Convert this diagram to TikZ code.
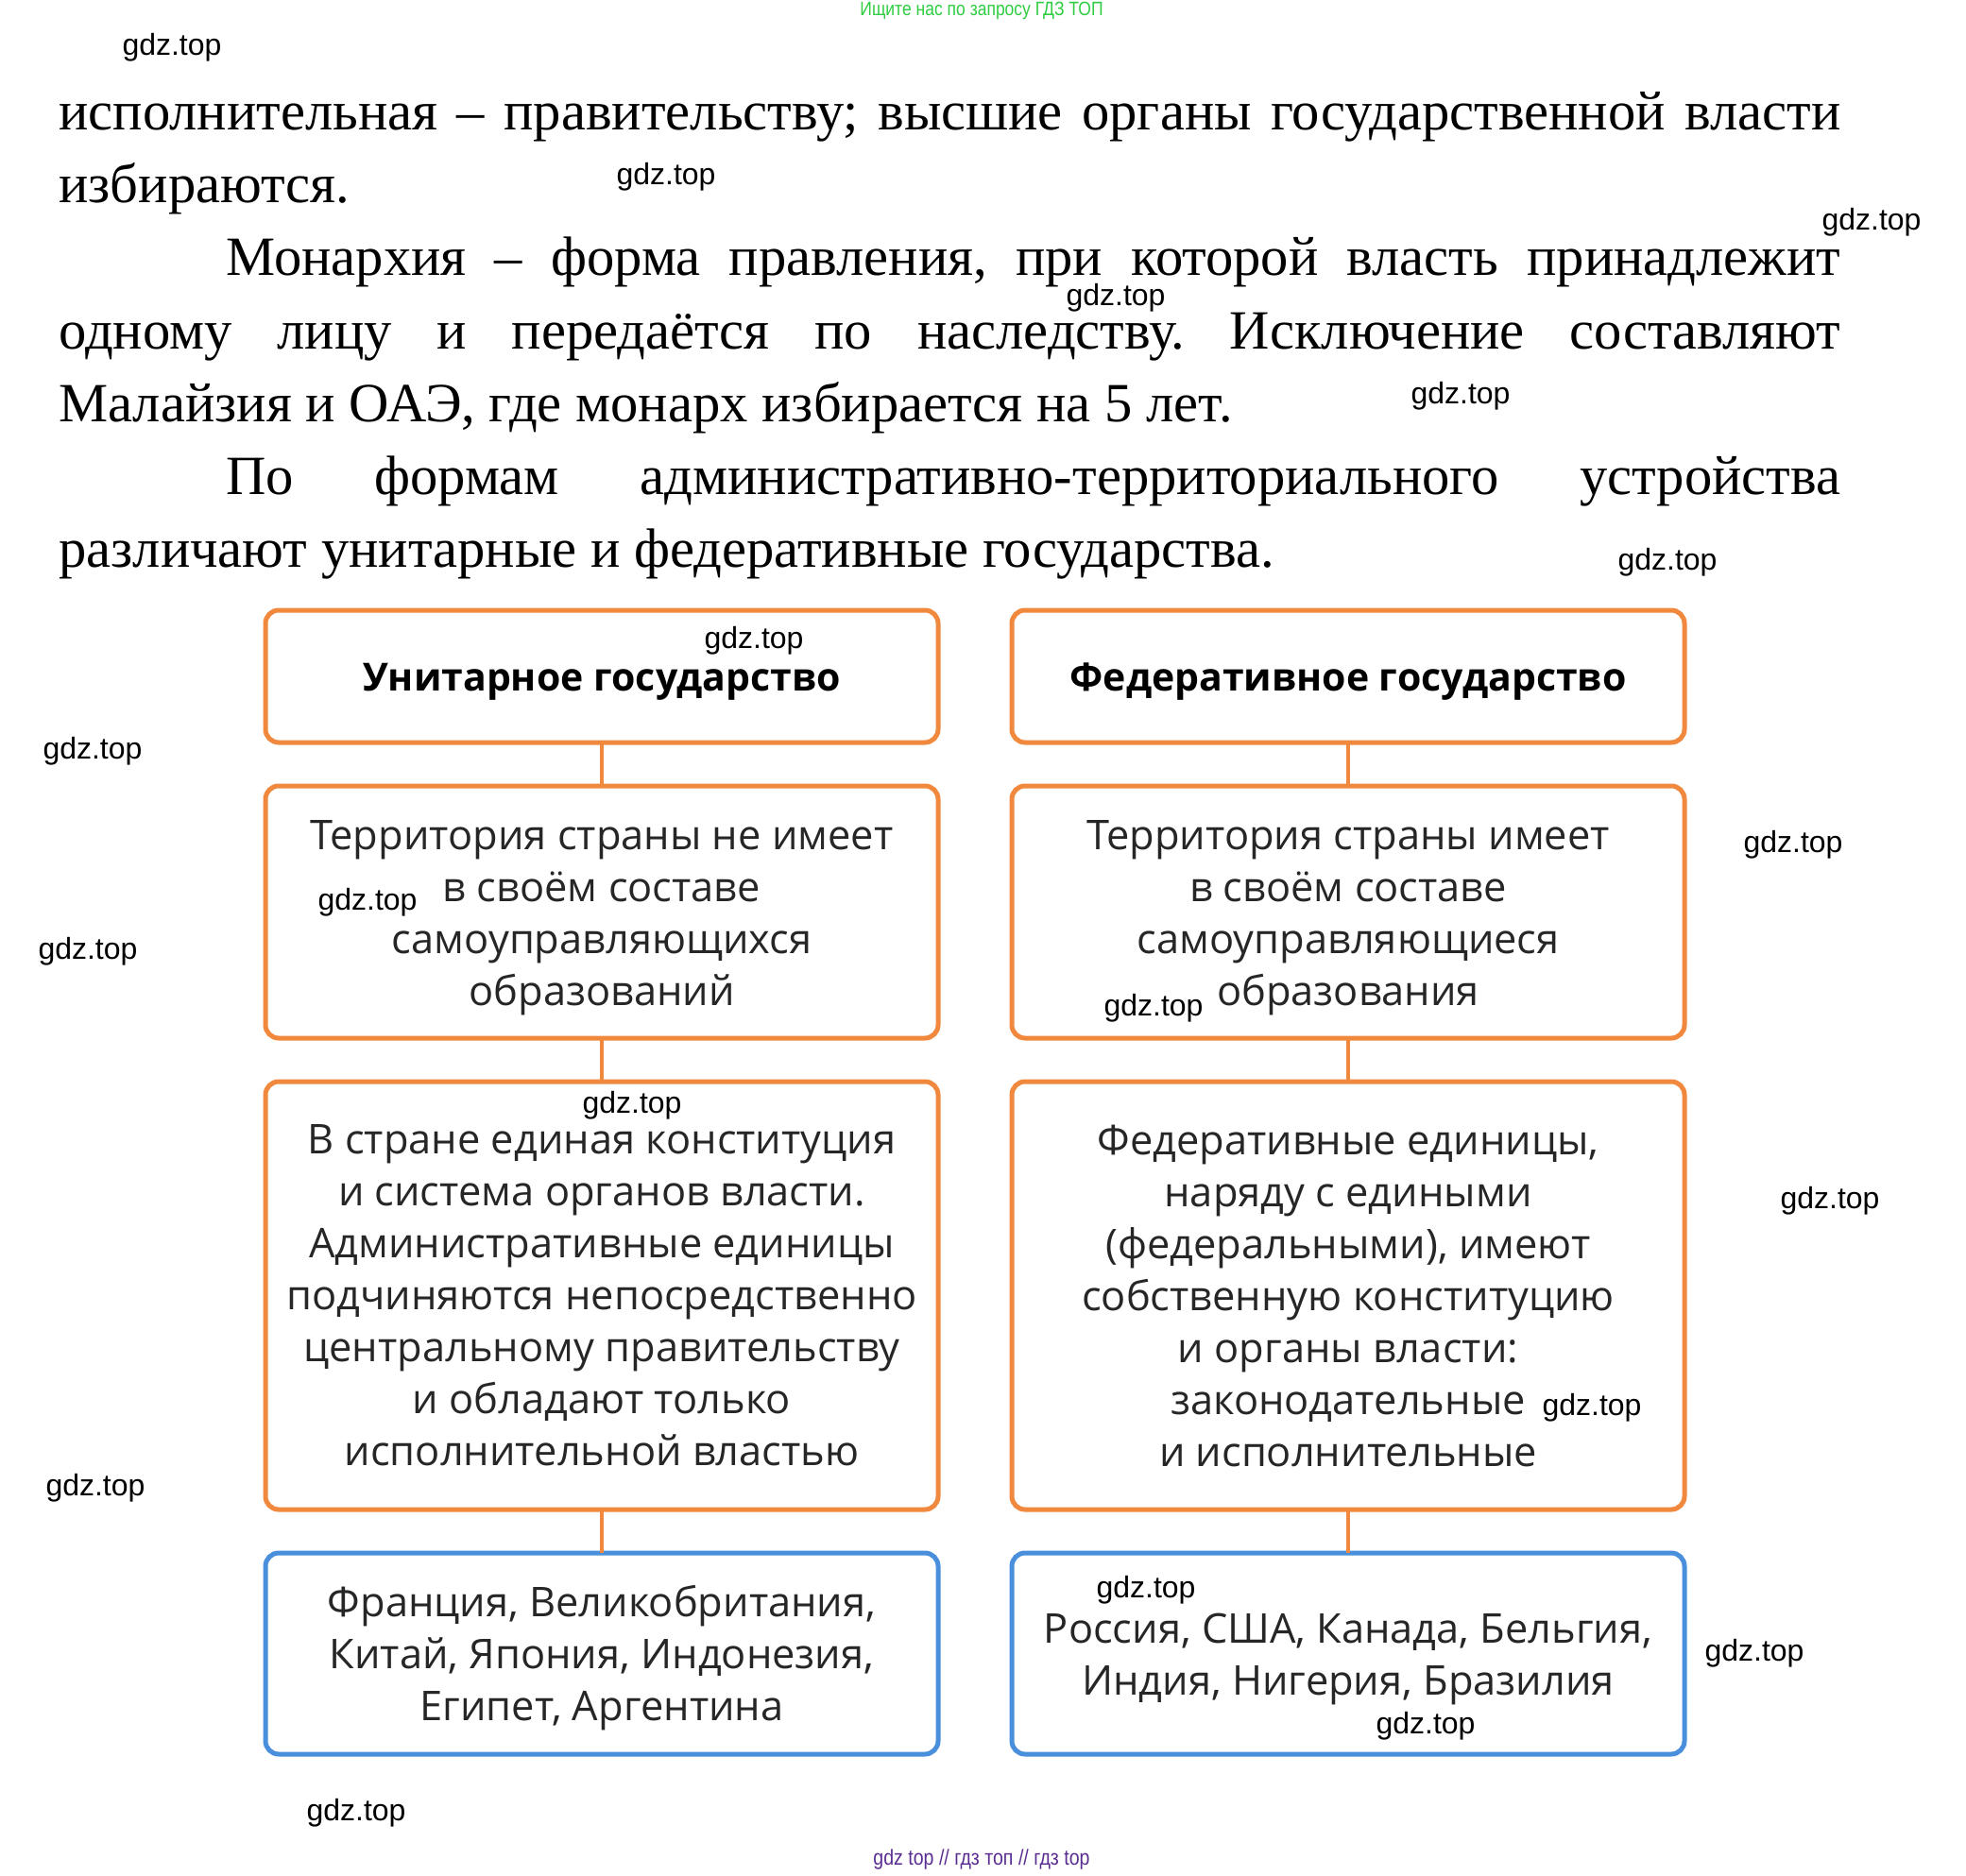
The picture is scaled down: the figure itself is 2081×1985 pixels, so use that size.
\documentclass[tikz,border=0pt]{standalone}
\usepackage{fontspec}
\setmainfont{Liberation Serif}
\newfontfamily\boxfont{Open Sans}
\newfontfamily\wmfont{Liberation Sans}
\usetikzlibrary{positioning}

\definecolor{boxorange}{HTML}{F0883E}
\definecolor{boxblue}{HTML}{4A8FDC}
\definecolor{adgreen}{HTML}{2ECC40}
\definecolor{adpurple}{HTML}{5A2D91}

\newcommand\topstrut{\rule{0pt}{21.5pt}}

\begin{document}
\frenchspacing
\begin{tikzpicture}[x=0.5pt, y=-0.5pt,
  box/.style={draw=boxorange, line width=2.5pt, rounded corners=7pt, align=center,
              minimum width=356pt, inner sep=0pt, outer sep=0pt, text=black!85,
              font=\boxfont\fontsize{21.7}{27.5}\selectfont},
  head/.style={box, minimum height=70pt, text=black,
               font=\boxfont\bfseries\fontsize{20.5}{27.5}\selectfont,
               execute at begin node={\rule{0pt}{20.5pt}}},
  ex/.style={box, draw=boxblue},
  link/.style={boxorange, line width=2pt},
  txt/.style={anchor=base west, inner sep=0pt, font=\fontsize{29.3}{38.5}\selectfont},
  wm/.style={inner sep=0pt, font=\wmfont\fontsize{16}{18}\selectfont}
]
  \useasboundingbox (0,0) rectangle (2081,1985);

  % page text above the scheme
  \node[txt] (l1) at (62,138) {\makebox[943pt][s]{исполнительная – правительству; высшие органы государственной власти}};
  \node[txt] (l2) at (62,215) {избираются.};
  \node[txt] (l3) at (239,292) {\makebox[854.5pt][s]{Монархия – форма правления, при которой власть принадлежит}};
  \node[txt] (l4) at (62,369) {\makebox[943pt][s]{одному лицу и передаётся по наследству. Исключение составляют}};
  \node[txt] (l5) at (62,446) {Малайзия и ОАЭ, где монарх избирается на 5 лет.};
  \node[txt] (l6) at (239,523) {\makebox[854.5pt][s]{По формам административно-территориального устройства}};
  \node[txt] (l7) at (62,600) {различают унитарные и федеративные государства.};

  % left column
  \node[head] (uni) at (637,716) {Унитарное государство};
  \node[box, minimum height=133.5pt, below=23pt of uni] (uniTerr)
    {\topstrut Территория страны не имеет\\в своём составе\\самоуправляющихся\\образований};
  \node[box, minimum height=226.5pt, below=23pt of uniTerr] (uniLaw)
    {В стране единая конституция\\и система органов власти.\\Административные единицы\\подчиняются непосредственно\\центральному правительству\\и обладают только\\исполнительной властью};
  \node[ex, minimum height=106.5pt, below=23pt of uniLaw] (uniEx)
    {\topstrut Франция, Великобритания,\\Китай, Япония, Индонезия,\\Египет, Аргентина};

  % right column
  \node[head, right=39pt of uni] (fed) {Федеративное государство};
  \node[box, minimum height=133.5pt, below=23pt of fed] (fedTerr)
    {\topstrut Территория страны имеет\\в своём составе\\самоуправляющиеся\\образования};
  \node[box, minimum height=226.5pt, below=23pt of fedTerr] (fedLaw)
    {Федеративные единицы,\\наряду с едиными\\(федеральными), имеют\\собственную конституцию\\и органы власти:\\законодательные\\и исполнительные};
  \node[ex, minimum height=106.5pt, below=23pt of fedLaw] (fedEx)
    {\topstrut Россия, США, Канада, Бельгия,\\Индия, Нигерия, Бразилия};

  \draw[link] (uni) -- (uniTerr);
  \draw[link] (uniTerr) -- (uniLaw);
  \draw[link] (uniLaw) -- (uniEx);
  \draw[link] (fed) -- (fedTerr);
  \draw[link] (fedTerr) -- (fedLaw);
  \draw[link] (fedLaw) -- (fedEx);

  % site marks
  \node[wm] (w1) at (182,50) {gdz.top};
  \node[wm] (w2) at (705,187) {gdz.top};
  \node[wm] (w3) at (1981,235) {gdz.top};
  \node[wm] (w4) at (1181,315) {gdz.top};
  \node[wm] (w5) at (1546,419) {gdz.top};
  \node[wm] (w6) at (1765,595) {gdz.top};
  \node[wm] (w7) at (798,678) {gdz.top};
  \node[wm] (w8) at (98,795) {gdz.top};
  \node[wm] (w9) at (1898,894) {gdz.top};
  \node[wm] (w10) at (389,955) {gdz.top};
  \node[wm] (w11) at (93,1007) {gdz.top};
  \node[wm] (w12) at (1221,1067) {gdz.top};
  \node[wm] (w13) at (669,1170) {gdz.top};
  \node[wm] (w14) at (1937,1271) {gdz.top};
  \node[wm] (w15) at (1685,1490) {gdz.top};
  \node[wm] (w16) at (101,1575) {gdz.top};
  \node[wm] (w17) at (1213,1683) {gdz.top};
  \node[wm] (w18) at (1857,1750) {gdz.top};
  \node[wm] (w19) at (1509,1827) {gdz.top};
  \node[wm] (w20) at (377,1919) {gdz.top};

  \node[wm, text=adgreen, font=\wmfont\fontsize{10.3}{12}\selectfont] (top) at (1039,11)
    {\scalebox{0.85}[1]{Ищите нас по запросу ГДЗ ТОП}};
  \node[wm, text=adpurple, font=\wmfont\fontsize{11.5}{13}\selectfont] (bottom) at (1039,1969)
    {\scalebox{0.85}[1]{gdz top // гдз топ // гдз top}};
\end{tikzpicture}
\end{document}
